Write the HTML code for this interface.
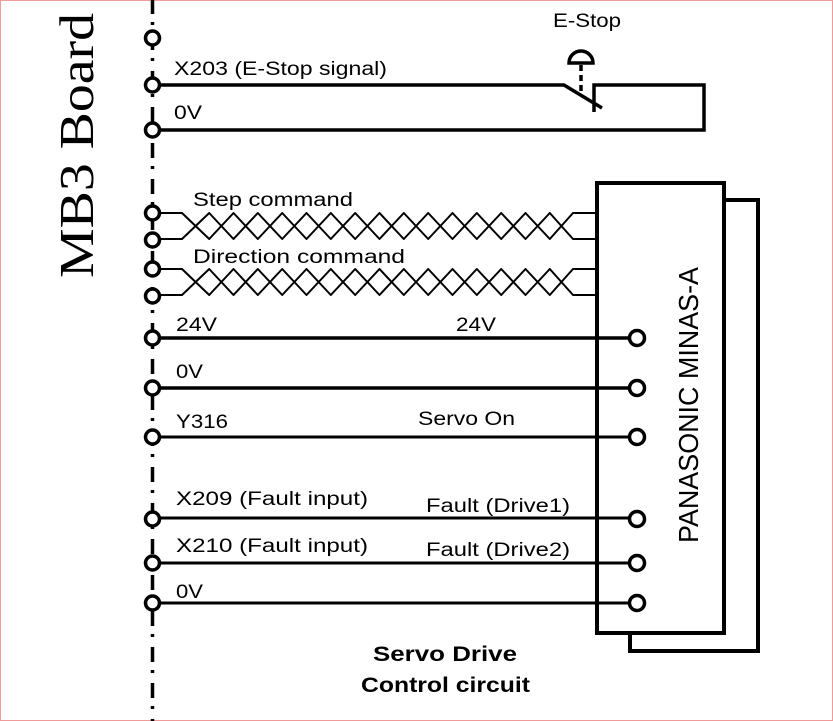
<!DOCTYPE html>
<html>
<head>
<meta charset="utf-8">
<style>
  html, body { margin: 0; padding: 0; background: #ffffff; }
  svg { display: block; }
  .lbl { font-family: "Liberation Sans", sans-serif; font-size: 19px; fill: #000; }
  .bold { font-family: "Liberation Sans", sans-serif; font-size: 21px; font-weight: bold; fill: #000; }
</style>
</head>
<body>
<svg width="833" height="721" viewBox="0 0 833 721" xmlns="http://www.w3.org/2000/svg">
  <rect x="0" y="0" width="833" height="721" fill="#ffffff"/>
  <!-- pink frame -->
  <rect x="0.5" y="0.5" width="832" height="720" fill="none" stroke="#f09a9a" stroke-width="1"/>

  <!-- MB3 Board label -->
  <text transform="translate(93,278) rotate(-90)" font-family="'Liberation Serif', serif" font-size="49" fill="#000" textLength="265" lengthAdjust="spacingAndGlyphs">MB3 Board</text>

  <!-- dash-dot board boundary -->
  <line x1="152.5" y1="-1" x2="152.5" y2="722" stroke="#000" stroke-width="3.5" stroke-dasharray="15 8 3 10"/>

  <!-- E-Stop circuit -->
  <g fill="none" stroke="#000" stroke-width="3.5" stroke-linejoin="miter">
    <polyline points="152,85 564,85 602,108"/>
    <polyline points="594,112 594,85 704,85 704,130 152,130"/>
  </g>
  <!-- mushroom head -->
  <path d="M569,63 A12,12 0 0 1 593,63 Z" fill="none" stroke="#000" stroke-width="3.5"/>
  <line x1="581" y1="65" x2="581" y2="94" stroke="#000" stroke-width="3.5" stroke-dasharray="6 4"/>

  <!-- main wires -->
  <g stroke="#000" fill="none">
    <line x1="152" y1="338" x2="631" y2="338" stroke-width="3.5"/>
    <line x1="152" y1="388" x2="631" y2="388" stroke-width="3.5"/>
    <line x1="152" y1="437" x2="631" y2="437" stroke-width="3"/>
    <line x1="152" y1="518" x2="631" y2="518" stroke-width="3"/>
    <line x1="152" y1="563" x2="631" y2="563" stroke-width="3"/>
    <line x1="152" y1="603" x2="631" y2="603" stroke-width="3"/>
  </g>

  <!-- twisted pairs -->
  <g fill="none" stroke="#000" stroke-width="2" stroke-linejoin="round">
    <path d="M152,213 H182 L209.2,239 L233.5,213 L257.8,239 L282.2,213 L306.5,239 L330.8,213 L355.2,239 L379.5,213 L403.8,239 L428.2,213 L452.5,239 L476.8,213 L501.2,239 L525.5,213 L549.8,239 L573,213 H597"/>
    <path d="M152,239 H182 L209.2,213 L233.5,239 L257.8,213 L282.2,239 L306.5,213 L330.8,239 L355.2,213 L379.5,239 L403.8,213 L428.2,239 L452.5,213 L476.8,239 L501.2,213 L525.5,239 L549.8,213 L573,239 H597"/>
    <path d="M152,269 H182 L209.2,295 L233.5,269 L257.8,295 L282.2,269 L306.5,295 L330.8,269 L355.2,295 L379.5,269 L403.8,295 L428.2,269 L452.5,295 L476.8,269 L501.2,295 L525.5,269 L549.8,295 L573,269 H597"/>
    <path d="M152,295 H182 L209.2,269 L233.5,295 L257.8,269 L282.2,295 L306.5,269 L330.8,295 L355.2,269 L379.5,295 L403.8,269 L428.2,295 L452.5,269 L476.8,295 L501.2,269 L525.5,295 L549.8,269 L573,295 H597"/>
  </g>

  <!-- Panasonic drive box -->
  <g fill="none" stroke="#000" stroke-width="4" stroke-linejoin="miter">
    <polyline points="724,200 758,200 758,651 630,651 630,633"/>
    <rect x="597" y="183" width="127" height="450"/>
  </g>
  <text transform="translate(698,543) rotate(-90)" font-family="'Liberation Sans', sans-serif" font-size="28" fill="#000" textLength="276" lengthAdjust="spacingAndGlyphs">PANASONIC MINAS-A</text>

  <!-- left terminals -->
  <g fill="#fff" stroke="#000" stroke-width="3.5">
    <circle cx="152.5" cy="38" r="7"/>
    <circle cx="152.5" cy="85" r="7"/>
    <circle cx="152.5" cy="130" r="7"/>
    <circle cx="152.5" cy="213" r="7"/>
    <circle cx="152.5" cy="240" r="7"/>
    <circle cx="152.5" cy="269" r="7"/>
    <circle cx="152.5" cy="296" r="7"/>
    <circle cx="152.5" cy="338" r="7"/>
    <circle cx="152.5" cy="388" r="7"/>
    <circle cx="152.5" cy="437" r="7"/>
    <circle cx="152.5" cy="519" r="7"/>
    <circle cx="152.5" cy="563" r="7"/>
    <circle cx="152.5" cy="603" r="7"/>
  </g>
  <!-- right terminals -->
  <g fill="#fff" stroke="#000" stroke-width="3.5">
    <circle cx="637" cy="338" r="7.5"/>
    <circle cx="637" cy="388" r="7.5"/>
    <circle cx="637" cy="437" r="7.5"/>
    <circle cx="637" cy="519" r="7.5"/>
    <circle cx="637" cy="563" r="7.5"/>
    <circle cx="637" cy="603" r="7.5"/>
  </g>

  <!-- labels -->
  <text class="lbl" x="553" y="27" textLength="68" lengthAdjust="spacingAndGlyphs">E-Stop</text>
  <text class="lbl" x="174" y="75" textLength="213" lengthAdjust="spacingAndGlyphs">X203 (E-Stop signal)</text>
  <text class="lbl" x="174" y="119" textLength="28" lengthAdjust="spacingAndGlyphs">0V</text>
  <text class="lbl" x="193" y="206" textLength="160" lengthAdjust="spacingAndGlyphs">Step command</text>
  <text class="lbl" x="193" y="263" textLength="212" lengthAdjust="spacingAndGlyphs">Direction command</text>
  <text class="lbl" x="176" y="331" textLength="41" lengthAdjust="spacingAndGlyphs">24V</text>
  <text class="lbl" x="176" y="378" textLength="27" lengthAdjust="spacingAndGlyphs">0V</text>
  <text class="lbl" x="176" y="428" textLength="52" lengthAdjust="spacingAndGlyphs">Y316</text>
  <text class="lbl" x="176" y="505" textLength="192" lengthAdjust="spacingAndGlyphs">X209 (Fault input)</text>
  <text class="lbl" x="176" y="552" textLength="192" lengthAdjust="spacingAndGlyphs">X210 (Fault input)</text>
  <text class="lbl" x="176" y="598" textLength="27" lengthAdjust="spacingAndGlyphs">0V</text>

  <text class="lbl" x="456" y="331" textLength="40" lengthAdjust="spacingAndGlyphs">24V</text>
  <text class="lbl" x="418" y="425" textLength="97" lengthAdjust="spacingAndGlyphs">Servo On</text>
  <text class="lbl" x="426" y="512" textLength="144" lengthAdjust="spacingAndGlyphs">Fault (Drive1)</text>
  <text class="lbl" x="426" y="556" textLength="144" lengthAdjust="spacingAndGlyphs">Fault (Drive2)</text>

  <text class="bold" x="373" y="661" textLength="144" lengthAdjust="spacingAndGlyphs">Servo Drive</text>
  <text class="bold" x="361" y="692" textLength="169" lengthAdjust="spacingAndGlyphs">Control circuit</text>
</svg>
</body>
</html>
